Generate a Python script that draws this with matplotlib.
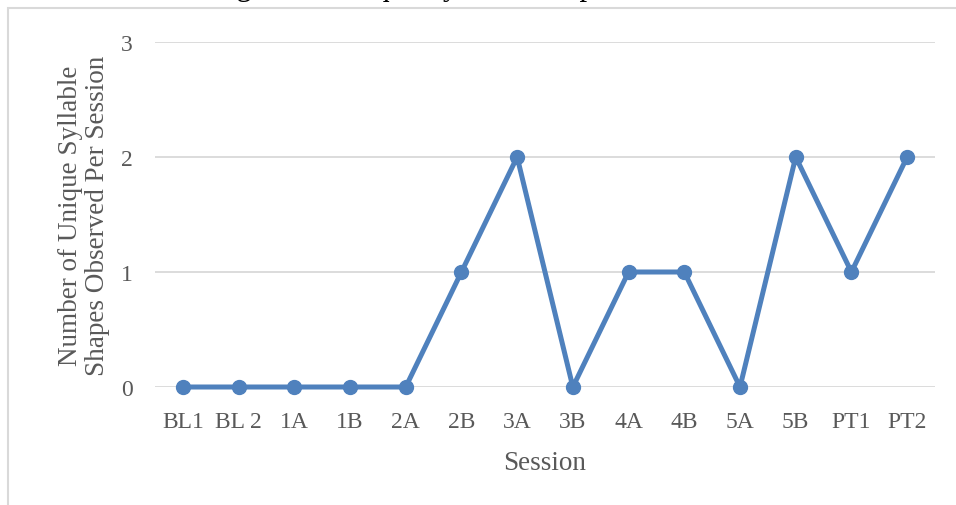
import matplotlib.pyplot as plt
from matplotlib.patches import Rectangle

# données
sessions = ['BL1', 'BL 2', '1A', '1B', '2A', '2B', '3A', '3B', '4A', '4B', '5A', '5B', 'PT1', 'PT2']
formes = [0, 0, 0, 0, 0, 1, 2, 0, 1, 1, 0, 2, 1, 2]
y_ticks = [0, 1, 2, 3]

plt.rcParams['font.family'] = ['Liberation Serif', 'DejaVu Serif']
gris = '#595959'
bleu = '#4F81BD'

fig = plt.figure(figsize=(9.56, 5.06), dpi=100)

# cadre du graphique
fig.patches.append(Rectangle((8 / 956, -0.1), 1.2, 1.1 - 9 / 506, transform=fig.transFigure,
                             fill=False, edgecolor='#D9D9D9', linewidth=1.5))

# titre (coupé en haut)
fig.text(211 / 956, 1 + 5 / 506, "Figure 3. Unique Syllable Shapes Per Session",
         fontsize=22, color='black', va='baseline', ha='left')

ax = fig.add_axes([155 / 956, 118 / 506, 780 / 956, 345 / 506])
x = list(range(len(sessions)))
ax.plot(x, formes, color=bleu, linewidth=3.6, marker='o', markersize=10,
        solid_joinstyle='round', solid_capstyle='round', clip_on=False, zorder=3)

ax.set_xlim(-0.5, len(sessions) - 0.5)
ax.set_ylim(0, 3)
ax.set_yticks(y_ticks)
ax.set_xticks(x)
ax.set_xticklabels(sessions)
ax.grid(axis='y', color='#D9D9D9', linewidth=1.3)
ax.set_axisbelow(True)
for s in ax.spines.values():
    s.set_visible(False)
ax.tick_params(length=0, labelsize=17, colors=gris)
ax.tick_params(axis='x', pad=17)
ax.tick_params(axis='y', pad=16)

ax.set_xlabel("Session", fontsize=19.5, color=gris, labelpad=13)
ax.set_ylabel("Number of Unique Syllable\nShapes Observed Per Session", fontsize=19.5,
              color=gris, linespacing=1.12, labelpad=8)

plt.savefig("out.png", dpi=100)
